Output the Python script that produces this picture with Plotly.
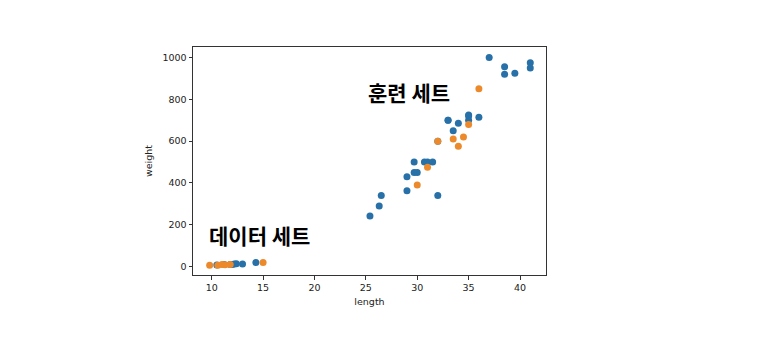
import plotly.graph_objects as go

# Training set (blue)
train_length = [25.4, 26.3, 26.5, 29.0, 29.0, 29.7, 29.7, 30.0, 30.7, 31.0, 31.5, 32.0, 32.0,
                33.0, 33.0, 33.5, 34.0, 35.0, 35.0, 35.0, 36.0, 37.0, 38.5, 38.5, 39.5, 41.0, 41.0,
                10.5, 11.2, 11.8, 12.0, 12.2, 12.4, 13.0, 14.3]
train_weight = [242.0, 290.0, 340.0, 363.0, 430.0, 450.0, 500.0, 450.0, 500.0, 500.0, 500.0, 340.0, 600.0,
                700.0, 700.0, 650.0, 685.0, 700.0, 725.0, 720.0, 714.0, 1000.0, 920.0, 955.0, 925.0, 975.0, 950.0,
                7.5, 9.8, 10.0, 9.8, 12.2, 13.4, 12.2, 19.7]

# Test set (orange)
test_length = [30.0, 31.0, 32.0, 33.5, 34.0, 34.5, 35.0, 36.0,
               9.8, 10.6, 11.0, 11.3, 11.8, 15.0]
test_weight = [390.0, 475.0, 600.0, 610.0, 575.0, 620.0, 680.0, 850.0,
               6.7, 7.0, 9.7, 8.7, 9.9, 19.9]

x_ticks = [10, 15, 20, 25, 30, 35, 40]
y_ticks = [0, 200, 400, 600, 800, 1000]

labels = ["훈련 세트", "데이터 세트"]
label_x = [29.2, 14.65]
label_y = [834, 149]

fig = go.Figure()
fig.add_trace(go.Scatter(x=train_length, y=train_weight, mode="markers",
                         marker=dict(color="#2771a8", size=7, line=dict(width=0)),
                         showlegend=False))
fig.add_trace(go.Scatter(x=test_length, y=test_weight, mode="markers",
                         marker=dict(color="#ec8a2b", size=7, line=dict(width=0)),
                         showlegend=False))

for t, x, y in zip(labels, label_x, label_y):
    fig.add_annotation(x=x, y=y, xref="x", yref="y", text="<b>" + t + "</b>", showarrow=False,
                       font=dict(family="Noto Sans CJK KR", size=21, color="#000000"))

axis_common = dict(showgrid=False, zeroline=False, showline=True, linecolor="#333333",
                   linewidth=1, mirror=True, ticks="outside", ticklen=3.5, tickwidth=1,
                   tickcolor="#333333", tickfont=dict(family="DejaVu Sans", size=9.5, color="#222222"))

fig.update_xaxes(range=[8.18, 42.53], tickvals=x_ticks,
                 title=dict(text="length", font=dict(family="DejaVu Sans", size=9.5, color="#222222"),
                            standoff=6), **axis_common)
fig.update_yaxes(range=[-40, 1050], tickvals=y_ticks,
                 title=dict(text="weight", font=dict(family="DejaVu Sans", size=9.5, color="#222222"),
                            standoff=8), **axis_common)

fig.update_layout(width=762, height=358, margin=dict(l=185, r=224, t=39, b=91),
                  plot_bgcolor="white", paper_bgcolor="white")

fig.write_html("out.html")
